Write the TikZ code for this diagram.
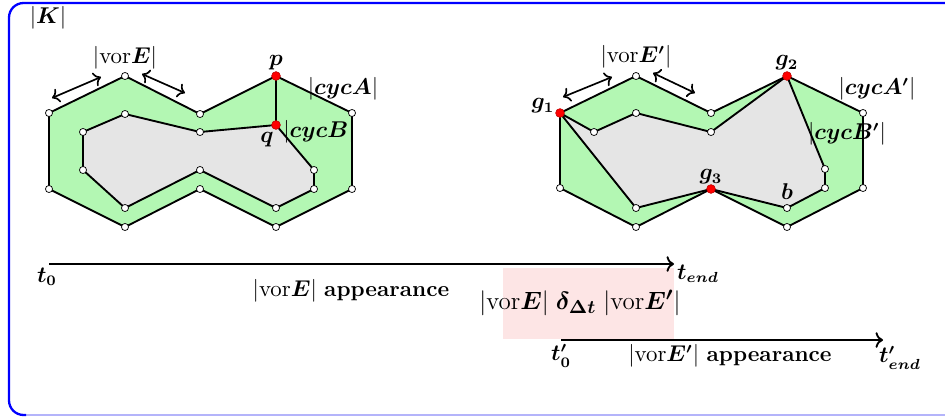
\documentclass[tikz,border=0pt]{standalone}
\usepackage{amsmath,amssymb}
\usetikzlibrary{arrows.meta}
\definecolor{greenfill}{RGB}{179,247,179}
\definecolor{grayfill}{RGB}{229,229,229}
\definecolor{pinkfill}{RGB}{253,229,229}
\definecolor{framelight}{RGB}{180,180,250}
\begin{document}
\begin{tikzpicture}[x=0.48pt,y=-0.48pt,
  vtx/.style={circle,draw=black,fill=white,inner sep=0pt,minimum size=3.4pt,line width=0.35pt},
  rdot/.style={circle,draw=red!75!black,fill=red,inner sep=0pt,minimum size=4.2pt,line width=0.3pt},
  edgeline/.style={line width=0.9pt,line join=round},
  dbl/.style={<->,line width=0.8pt},
  tline/.style={->,line width=0.9pt},
  lbl/.style={inner sep=1pt,font=\fontsize{10.6}{12.7}\selectfont}]
\useasboundingbox (0,0) rectangle (945,418);
% frame
\draw[framelight,line width=0.6pt] (24,415) -- (946,415);
\draw[blue,line width=1.1pt,rounded corners=7pt] (26,415) -- (9,415) -- (9,3) -- (946,3);
% ---------- left figure ----------
\foreach \n/\x/\y in {A1/49/113,A2/125/76,A3/200/114,P/276/76,A5/352/113,A6/352/189,A7/276/227,A8/200/189,A9/125/227,A10/49/189,
  B1/83/132,B2/125/114,B3/200/132,Q/276/125,B5/314/170,B6/314/189,B7/276/208,B8/200/170,B9/125/208,B10/83/170}
  \coordinate (\n) at (\x,\y);
\fill[greenfill] (A1)--(A2)--(A3)--(P)--(A5)--(A6)--(A7)--(A8)--(A9)--(A10)--cycle;
\fill[grayfill] (B1)--(B2)--(B3)--(Q)--(B5)--(B6)--(B7)--(B8)--(B9)--(B10)--cycle;
\draw[edgeline] (A1)--(A2)--(A3)--(P)--(A5)--(A6)--(A7)--(A8)--(A9)--(A10)--cycle;
\draw[edgeline] (B1)--(B2)--(B3)--(Q)--(B5)--(B6)--(B7)--(B8)--(B9)--(B10)--cycle;
\draw[edgeline] (P)--(Q);
\foreach \n in {A1,A2,A3,A5,A6,A7,A8,A9,A10,B1,B2,B3,B5,B6,B7,B8,B9,B10}
  \node[vtx] (v\n) at (\n) {};
\node[rdot] (vP) at (P) {};
\node[rdot] (vQ) at (Q) {};
% ---------- right figure ----------
\foreach \n/\x/\y in {G1/560/113,C2/636/76,C3/711/113,G2/787/76,C5/863/113,C6/863/188,C7/787/227,G3/711/189,C9/636/227,C10/560/188,
  D2/594/132,D3/636/113,D4/711/132,D6/825/169,D7/825/188,Bb/787/208,D10/636/208}
  \coordinate (\n) at (\x,\y);
\fill[greenfill] (G1)--(C2)--(C3)--(G2)--(C5)--(C6)--(C7)--(G3)--(C9)--(C10)--cycle;
\fill[grayfill] (G1)--(D2)--(D3)--(D4)--(G2)--(D6)--(D7)--(Bb)--(G3)--(D10)--cycle;
\draw[edgeline] (G1)--(C2)--(C3)--(G2)--(C5)--(C6)--(C7)--(G3)--(C9)--(C10)--cycle;
\draw[edgeline] (G1)--(D2)--(D3)--(D4)--(G2)--(D6)--(D7)--(Bb)--(G3)--(D10)--cycle;
\foreach \n in {C2,C3,C5,C6,C7,C9,C10,D2,D3,D4,D6,D7,Bb,D10}
  \node[vtx] (v\n) at (\n) {};
\node[rdot] (vG1) at (G1) {};
\node[rdot] (vG2) at (G2) {};
\node[rdot] (vG3) at (G3) {};
% ---------- labels ----------
\node[lbl] (lK) at (48,18) {$|\boldsymbol{K}|$};
\node[lbl] (lvorE) at (125,58) {$|\mathrm{vor}\boldsymbol{E}|$};
\node[lbl] (lp) at (276,63) {$\boldsymbol{p}$};
\node[lbl] (lcycA) at (343,89) {$|\boldsymbol{cycA}|$};
\node[lbl] (lcycB) at (319,132) {$|\boldsymbol{cycB}|$};
\node[lbl] (lq) at (267,140) {$\boldsymbol{q}$};
\node[lbl] (lvorEp) at (636,57) {$|\mathrm{vor}\boldsymbol{E'}|$};
\node[lbl] (lg1) at (543,106) {$\boldsymbol{g_1}$};
\node[lbl] (lg2) at (787,63) {$\boldsymbol{g_2}$};
\node[lbl] (lcycAp) at (877,89) {$|\boldsymbol{cycA'}|$};
\node[lbl] (lcycBp) at (847,134) {$|\boldsymbol{cycB'}|$};
\node[lbl] (lg3) at (711,177) {$\boldsymbol{g_3}$};
\node[lbl] (lb) at (787,192) {$\boldsymbol{b}$};
% double arrows
\coordinate (da1) at (52,98); \coordinate (da2) at (101,77);
\coordinate (da3) at (142,74); \coordinate (da4) at (185,93);
\coordinate (da5) at (563,97); \coordinate (da6) at (612,77);
\coordinate (da7) at (653,73); \coordinate (da8) at (695,93);
\draw[dbl] (da1) -- (da2);
\draw[dbl] (da3) -- (da4);
\draw[dbl] (da5) -- (da6);
\draw[dbl] (da7) -- (da8);
% ---------- timeline ----------
\fill[pinkfill] (503,268) rectangle (674,339);
\coordinate (t0s) at (49,264);
\coordinate (t0e) at (674,264);
\coordinate (t1s) at (561,340);
\coordinate (t1e) at (883,340);
\draw[tline] (t0s) -- (t0e);
\draw[tline] (t1s) -- (t1e);
\node[lbl] (lt0) at (47,277) {$\boldsymbol{t_0}$};
\node[lbl,inner sep=0pt] (lte) at (698,274) {$\boldsymbol{t_{end}}$};
\node[lbl] (lapp1) at (351,291) {$|\mathrm{vor}\boldsymbol{E}|$\ \textbf{appearance}};
\node[lbl,inner sep=0pt,font=\fontsize{12.5}{15}\selectfont] (lbig) at (580,303) {$|\mathrm{vor}\boldsymbol{E}|\;\boldsymbol{\delta_{\Delta t}}\;|\mathrm{vor}\boldsymbol{E'}|$};
\node[lbl] (lt0p) at (561,356) {$\boldsymbol{t'_0}$};
\node[lbl] (lapp2) at (730,356) {$|\mathrm{vor}\boldsymbol{E'}|$\ \textbf{appearance}};
\node[lbl] (ltep) at (900,358) {$\boldsymbol{t'_{end}}$};
\end{tikzpicture}
\end{document}
